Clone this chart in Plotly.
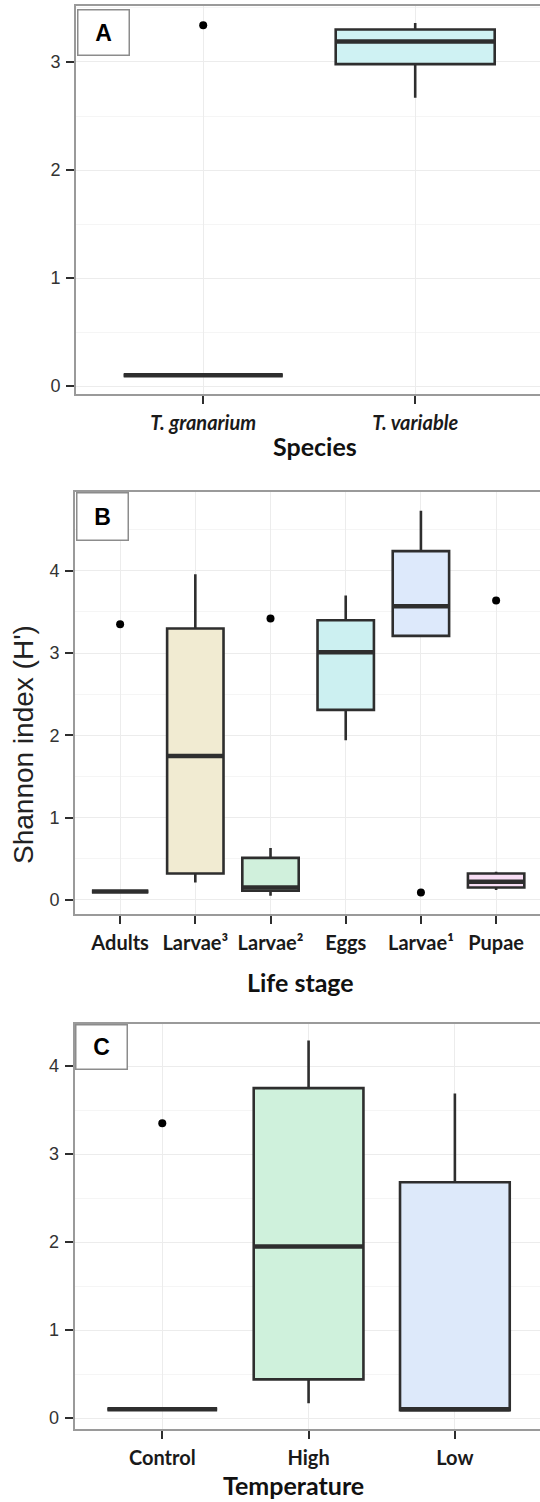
import plotly.graph_objects as go

W, H = 540, 1502

# ---- Panel A: species ----
species = ["T. granarium", "T. variable"]
sp_q1 = [0.10, 2.98]
sp_med = [0.10, 3.19]
sp_q3 = [0.10, 3.30]
sp_lo = [0.10, 2.67]
sp_hi = [0.10, 3.36]
sp_out = [[3.34], []]
sp_fill = ["#ffffff", "#cff2f3"]

# ---- Panel B: life stage ----
stages = ["Adults", "Larvae³", "Larvae²", "Eggs", "Larvae¹", "Pupae"]
st_q1 = [0.10, 0.32, 0.11, 2.31, 3.21, 0.15]
st_med = [0.10, 1.75, 0.15, 3.01, 3.57, 0.22]
st_q3 = [0.10, 3.30, 0.51, 3.40, 4.24, 0.32]
st_lo = [0.10, 0.21, 0.05, 1.94, 3.21, 0.12]
st_hi = [0.10, 3.96, 0.63, 3.70, 4.73, 0.34]
st_out = [[3.35], [], [3.42], [], [0.09], [3.64]]
st_fill = ["#ffffff", "#f1ebd2", "#d0f0dc", "#ccf0f1", "#dde9fb", "#f8def4"]

# ---- Panel C: temperature ----
temps = ["Control", "High", "Low"]
tp_q1 = [0.10, 0.44, 0.09]
tp_med = [0.10, 1.95, 0.10]
tp_q3 = [0.10, 3.75, 2.68]
tp_lo = [0.10, 0.17, 0.09]
tp_hi = [0.10, 4.29, 3.69]
tp_out = [[3.35], [], []]
tp_fill = ["#ffffff", "#cff1dc", "#dde9fa"]

y_ticks = [0, 1, 2, 3, 4]

# pixel geometry of each panel
panels = [
    dict(name="A", cats=species, q1=sp_q1, med=sp_med, q3=sp_q3, lo=sp_lo, hi=sp_hi,
         out=sp_out, fill=sp_fill, top=6, bottom=395, left=76, step=212.0,
         yr=[-0.077, 3.518], title="Species", title_x=315, title_y=447,
         italic=True, box=(76.5, 9.5, 52, 46)),
    dict(name="B", cats=stages, q1=st_q1, med=st_med, q3=st_q3, lo=st_lo, hi=st_hi,
         out=st_out, fill=st_fill, top=493, bottom=915, left=75, step=75.2,
         yr=[-0.17, 4.955], title="Life stage", title_x=300, title_y=983,
         italic=False, box=(75.5, 493, 52, 48)),
    dict(name="C", cats=temps, q1=tp_q1, med=tp_med, q3=tp_q3, lo=tp_lo, hi=tp_hi,
         out=tp_out, fill=tp_fill, top=1025, bottom=1431, left=74.5, step=146.3,
         yr=[-0.125, 4.483], title="Temperature", title_x=293, title_y=1487,
         italic=False, box=(75, 1025, 52, 45)),
]

BOX_W = 0.75
LINE = "#2e2e2e"

fig = go.Figure()
annotations = []
layout_axes = {}

for k, p in enumerate(panels, start=1):
    xa = "x" if k == 1 else f"x{k}"
    ya = "y" if k == 1 else f"y{k}"
    idx = list(range(len(p["cats"])))

    for i in idx:
        fig.add_trace(go.Box(
            x=[i], q1=[p["q1"][i]], median=[p["med"][i]], q3=[p["q3"][i]],
            lowerfence=[p["lo"][i]], upperfence=[p["hi"][i]],
            width=BOX_W, whiskerwidth=0, fillcolor=p["fill"][i],
            line=dict(color=LINE, width=2.6), boxpoints=False,
            xaxis=xa, yaxis=ya, showlegend=False, hoverinfo="skip"))
        # heavier median bar
        fig.add_trace(go.Scatter(
            x=[i - BOX_W / 2, i + BOX_W / 2], y=[p["med"][i], p["med"][i]],
            mode="lines", line=dict(color=LINE, width=4.5),
            xaxis=xa, yaxis=ya, showlegend=False, hoverinfo="skip"))
        if p["out"][i]:
            fig.add_trace(go.Scatter(
                x=[i] * len(p["out"][i]), y=p["out"][i], mode="markers",
                marker=dict(color="black", size=8),
                xaxis=xa, yaxis=ya, showlegend=False, hoverinfo="skip"))

    x_right = -0.6 + (W - p["left"]) / p["step"]
    tickfont = dict(family="Lato", size=20, weight="bold", color="#1a1a1a")
    if p["italic"]:
        tickfont["style"] = "italic"

    xkey = "xaxis" if k == 1 else f"xaxis{k}"
    ykey = "yaxis" if k == 1 else f"yaxis{k}"
    layout_axes[xkey] = dict(
        domain=[p["left"] / W, 1], range=[-0.6, x_right], anchor=ya,
        tickmode="array", tickvals=idx, ticktext=p["cats"], tickfont=tickfont,
        ticks="outside", ticklen=8, tickwidth=2, tickcolor=LINE,
        showline=True, linecolor="#9a9a9a", linewidth=2, mirror=True,
        showgrid=True, gridcolor="#ececec", gridwidth=1, zeroline=False,
        ticklabelstandoff=2, fixedrange=True)
    layout_axes[ykey] = dict(
        domain=[1 - p["bottom"] / H, 1 - p["top"] / H], range=p["yr"], anchor=xa,
        tickmode="array", tickvals=y_ticks,
        tickfont=dict(family="Liberation Sans", size=18, color="#333333"),
        ticks="outside", ticklen=8, tickwidth=2, tickcolor=LINE,
        showline=True, linecolor="#9a9a9a", linewidth=2,
        showgrid=True, gridcolor="#ececec", gridwidth=1, zeroline=False,
        minor=dict(dtick=0.5, tick0=0, showgrid=True, gridcolor="#f5f5f5",
                   gridwidth=1, ticks=""),
        ticklabelstandoff=2, fixedrange=True)

    # panel letter box
    bx, by, bw, bh = p["box"]
    annotations.append(dict(
        text=f"<b>{p['name']}</b>", xref="paper", yref="paper",
        x=bx / W, y=1 - by / H, xanchor="left", yanchor="top",
        width=bw - 2, height=bh - 2, borderpad=0, showarrow=False,
        bordercolor="#8c8c8c", borderwidth=1.5, bgcolor="white",
        font=dict(family="Liberation Sans", size=23, color="black")))
    # axis title
    annotations.append(dict(
        text=p["title"], xref="paper", yref="paper",
        x=p["title_x"] / W, y=1 - p["title_y"] / H,
        xanchor="center", yanchor="middle", showarrow=False,
        font=dict(family="Lato", size=25, weight="bold", color="#111111")))

annotations.append(dict(
    text="Shannon index (H')", xref="paper", yref="paper",
    x=23 / W, y=1 - 746 / H, xanchor="center", yanchor="middle",
    textangle=-90, showarrow=False,
    font=dict(family="Liberation Sans", size=28, color="#222222")))

fig.update_layout(
    width=W, height=H, margin=dict(l=0, r=0, t=0, b=0),
    paper_bgcolor="white", plot_bgcolor="white",
    annotations=annotations, showlegend=False, boxmode="overlay",
    **layout_axes)

fig.write_html("out.html", config={"displayModeBar": False})
